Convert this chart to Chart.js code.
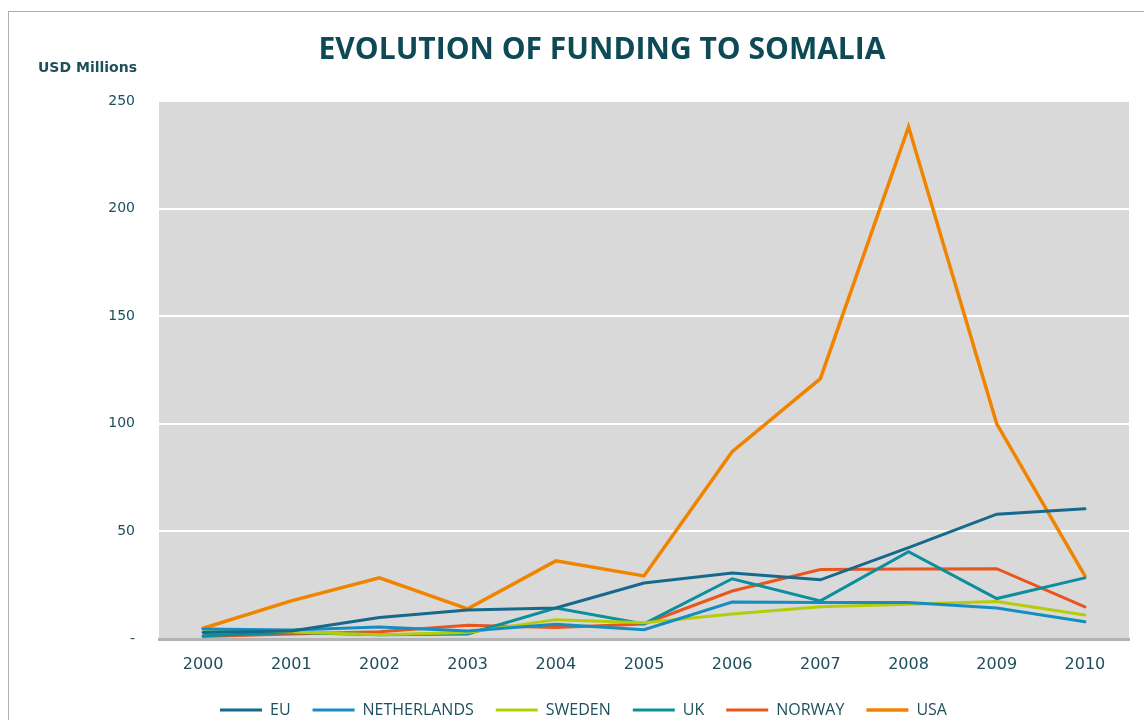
<!DOCTYPE html>
<html>
<head>
<meta charset="utf-8">
<script src="https://cdn.jsdelivr.net/npm/chart.js@4.4.1/dist/chart.umd.min.js"></script>
<style>
  html, body { margin: 0; padding: 0; background: #fff; }
  #wrap { position: relative; width: 1144px; height: 720px; }
  #frame { position: absolute; left: 8px; top: 11px; right: 0; bottom: 0; border-top: 1px solid #a8b0b4; border-left: 1px solid #a8b0b4; }
  canvas { position: absolute; left: 0; top: 0; }
</style>
</head>
<body>
<div id="wrap">
  <div id="frame"></div>
  <canvas id="chart" width="1144" height="720"></canvas>
</div>
<script>
// Funding to Somalia, USD millions, 2000–2010
const years = ['2000', '2001', '2002', '2003', '2004', '2005', '2006', '2007', '2008', '2009', '2010'];
const eu = [3, 3.7, 10, 13.5, 14.4, 26, 30.7, 27.5, 42.5, 58, 60.5];
const netherlands = [4.6, 4.2, 5.6, 3.7, 6.8, 4.3, 17.2, 17, 17, 14.4, 8];
const sweden = [4.6, 3.2, 2, 3, 9, 7.5, 11.6, 15, 16.2, 17.4, 11.2];
const uk = [1.5, 3, 2, 2.3, 14.4, 7, 28, 17.7, 40.6, 18.8, 28.4];
const norway = [1.2, 2.3, 3.4, 6.4, 5.3, 7, 22.3, 32.3, 32.5, 32.7, 14.9];
const usa = [5, 17.7, 28.4, 14, 36.3, 29.3, 87, 121, 238, 100, 29.3];

const TEXT = '#1d4f5c';
const FONT = "'DejaVu Sans', sans-serif";

// gray plot background, title and y axis caption
const decor = {
    id: 'decor',
    afterLayout(c) {
        // legend sits a little right of the canvas centre in the original
        c.legend.left += 19;
        c.legend.right += 19;
    },
    beforeDraw(c) {
        const { ctx, chartArea: a } = c;
        ctx.save();
        ctx.fillStyle = '#d9d9d9';
        ctx.fillRect(a.left, a.top, a.right - a.left, a.bottom - a.top);
        ctx.restore();
    },
    afterDraw(c) {
        const ctx = c.ctx;
        ctx.save();
        ctx.textBaseline = 'middle';
        ctx.fillStyle = '#0e4a55';
        ctx.font = "bold 30px 'Open Sans', sans-serif";
        ctx.textAlign = 'center';
        ctx.fillText('EVOLUTION OF FUNDING TO SOMALIA', 602, 50);
        ctx.fillStyle = TEXT;
        ctx.font = "bold 14px 'DejaVu Sans', sans-serif";
        ctx.textAlign = 'left';
        ctx.fillText('USD Millions', 38, 68);
        ctx.restore();
    },
};

const line = (label, data, color, width) => ({
    label, data, borderColor: color, backgroundColor: color,
    borderWidth: width, pointRadius: 0, tension: 0, borderCapStyle: 'round',
});

new Chart(document.getElementById('chart'), {
    type: 'line',
    data: {
        labels: years,
        datasets: [
            line('EU', eu, '#17698c', 3),
            line('NETHERLANDS', netherlands, '#168dc0', 3),
            line('SWEDEN', sweden, '#b5cc0a', 3),
            line('UK', uk, '#0b8f9c', 3),
            line('NORWAY', norway, '#e8561e', 3),
            line('USA', usa, '#f08400', 3.5),
        ],
    },
    options: {
        responsive: false,
        animation: false,
        layout: { padding: { top: 101, right: 15, left: 0, bottom: -8 } },
        plugins: {
            title: { display: false },
            legend: {
                position: 'bottom',
                labels: {
                    usePointStyle: true,
                    pointStyle: 'line',
                    pointStyleWidth: 42,
                    color: TEXT,
                    font: { family: "'Open Sans', sans-serif", size: 16 },
                    padding: 22,
                },
            },
            tooltip: { enabled: false },
        },
        scales: {
            x: {
                offset: true,
                grid: { display: false },
                border: { color: '#b0b4b6', width: 3 },
                ticks: { color: TEXT, font: { family: FONT, size: 16 }, padding: 8 },
                afterFit: (s) => { s.height = 41; },
            },
            y: {
                min: 0,
                max: 250,
                border: { display: false },
                grid: { color: (ctx) => (ctx.tick.value === 0 ? 'rgba(0,0,0,0)' : '#ffffff'), lineWidth: 2, drawTicks: false },
                ticks: {
                    stepSize: 50,
                    color: TEXT,
                    font: { family: FONT, size: 14 },
                    padding: 24,
                    callback: (v) => (v === 0 ? '-' : v),
                },
                afterFit: (s) => { s.width = 159; },
            },
        },
    },
    plugins: [decor],
});
</script>
</body>
</html>
